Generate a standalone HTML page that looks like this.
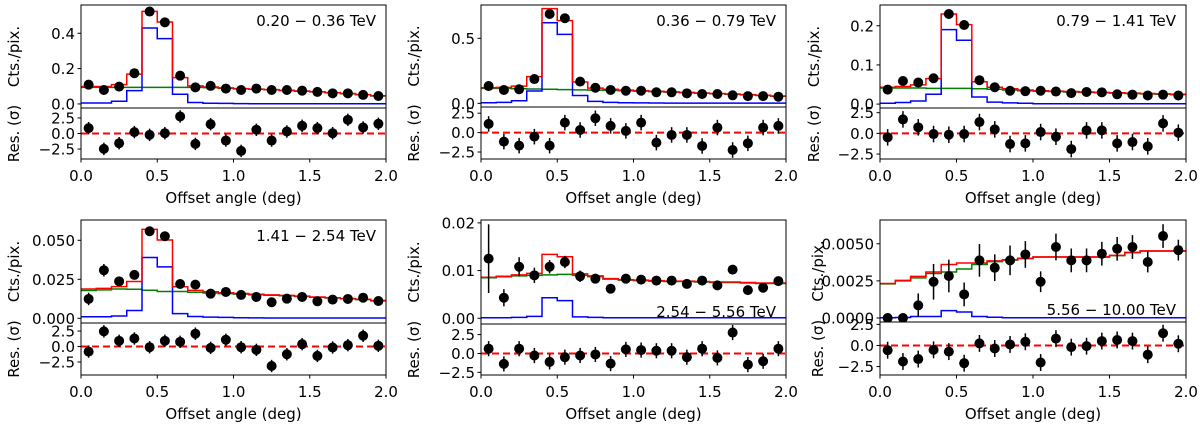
<!DOCTYPE html>
<html><head><meta charset="utf-8"><style>
html,body{margin:0;padding:0;background:#fff;}
svg{display:block;font-family:"DejaVu Sans","Liberation Sans",sans-serif;}
</style></head><body>
<svg id="fig" width="1200" height="426" viewBox="0 0 1200 426" xmlns="http://www.w3.org/2000/svg"></svg>
<script>
const xBins=[0.05,0.15,0.25,0.35,0.45,0.55,0.65,0.75,0.85,0.95,1.05,1.15,1.25,1.35,1.45,1.55,1.65,1.75,1.85,1.95];
const energyLabels=["0.20 − 0.36 TeV","0.36 − 0.79 TeV","0.79 − 1.41 TeV","1.41 − 2.54 TeV","2.54 − 5.56 TeV","5.56 − 10.00 TeV"];
const counts1=[0.109,0.079,0.098,0.174,0.523,0.462,0.160,0.094,0.102,0.087,0.079,0.087,0.079,0.079,0.075,0.068,0.060,0.060,0.051,0.045];
const counts2=[0.133,0.103,0.108,0.187,0.687,0.654,0.167,0.12,0.103,0.097,0.097,0.085,0.085,0.077,0.072,0.072,0.062,0.056,0.056,0.051];
const counts3=[0.037,0.059,0.055,0.066,0.23,0.202,0.061,0.043,0.034,0.033,0.034,0.032,0.028,0.031,0.030,0.025,0.024,0.022,0.024,0.022];
const counts4=[0.0124,0.0308,0.0237,0.0278,0.0558,0.0526,0.022,0.0216,0.0158,0.0169,0.015,0.0137,0.0103,0.0126,0.0137,0.0109,0.012,0.0124,0.0132,0.0111];
const counts5=[0.0125,0.0043,0.0108,0.009,0.0108,0.0118,0.0088,0.0083,0.0062,0.0083,0.0081,0.0079,0.0079,0.0072,0.0079,0.0069,0.0102,0.0059,0.0064,0.0078];
const counts6=[0,0,0.00085,0.00244,0.00283,0.00159,0.00388,0.00339,0.00388,0.00428,0.00244,0.00478,0.00388,0.00388,0.00433,0.00466,0.00478,0.00377,0.00552,0.00457];
const errs1=[0.004,0.004,0.004,0.005,0.006,0.006,0.005,0.004,0.004,0.004,0.004,0.004,0.004,0.004,0.004,0.004,0.004,0.004,0.004,0.004];
const errs2=[0.006,0.006,0.006,0.007,0.01,0.01,0.006,0.006,0.006,0.006,0.006,0.006,0.005,0.005,0.005,0.005,0.005,0.005,0.005,0.005];
const errs3=[0.003,0.003,0.003,0.003,0.005,0.005,0.003,0.003,0.003,0.003,0.003,0.003,0.003,0.003,0.003,0.003,0.003,0.003,0.003,0.003];
const errs4=[0.004,0.004,0.002,0.002,0.003,0.002,0.0015,0.0015,0.0012,0.0012,0.0012,0.001,0.001,0.001,0.001,0.001,0.001,0.001,0.001,0.001];
const errs5=[0.0072,0.0018,0.002,0.0016,0.0014,0.0013,0.0012,0.001,0.0008,0.0009,0.0009,0.0008,0.0008,0.0008,0.0008,0.0008,0.0007,0.0005,0.0005,0.0005];
const errs6=[0.0001,0.0001,0.0008,0.0012,0.0011,0.0008,0.0011,0.0009,0.001,0.0009,0.0007,0.0009,0.0008,0.0008,0.0008,0.0008,0.0008,0.0007,0.0008,0.0007];
const src1=[0.005,0.005,0.015,0.075,0.43,0.37,0.055,0.008,0.004,0.003,0.002,0.001,0.001,0.001,0.001,0.001,0.001,0.001,0.001,0.001];
const src2=[0.005,0.008,0.02,0.095,0.62,0.53,0.06,0.015,0.008,0.005,0.004,0.003,0.002,0.002,0.002,0.002,0.002,0.002,0.002,0.002];
const src3=[0.002,0.004,0.008,0.025,0.19,0.163,0.018,0.005,0.003,0.002,0.001,0.001,0.001,0.001,0.001,0.001,0.001,0.001,0.001,0.001];
const src4=[0.001,0.001,0.0015,0.005,0.039,0.033,0.003,0.0012,0.0008,0.0006,0.0004,0.0003,0.0002,0.0002,0.0002,0.0002,0.0002,0.0002,0.0002,0.0002];
const src5=[0.0001,0.0001,0.0002,0.0004,0.0043,0.0037,0.0003,0.0002,0.0001,0.0001,0.0001,0.0001,0.0001,0.0001,0.0001,0.0001,0.0001,0.0001,0.0001,0.0001];
const src6=[0.00002,0.00003,0.0001,0.0001,0.0005,0.0004,0.0001,0.00005,0.00002,0.00002,0.00002,0.00002,0.00002,0.00002,0.00002,0.00002,0.00002,0.00002,0.00002,0.00002];
const bkg1=[0.094,0.094,0.094,0.094,0.094,0.094,0.094,0.094,0.092,0.088,0.085,0.083,0.08,0.076,0.072,0.068,0.063,0.058,0.052,0.045];
const bkg2=[0.115,0.115,0.112,0.11,0.108,0.106,0.104,0.102,0.1,0.097,0.094,0.09,0.086,0.082,0.078,0.074,0.07,0.065,0.06,0.055];
const bkg3=[0.041,0.041,0.041,0.04,0.04,0.04,0.039,0.038,0.036,0.034,0.033,0.032,0.031,0.03,0.029,0.028,0.027,0.026,0.025,0.024];
const bkg4=[0.0178,0.0182,0.0188,0.0186,0.018,0.0172,0.0172,0.0167,0.0162,0.0158,0.0155,0.0151,0.0148,0.0145,0.014,0.0135,0.013,0.0125,0.012,0.0112];
const bkg5=[0.0085,0.0087,0.0089,0.009,0.0091,0.0092,0.009,0.0087,0.0082,0.008,0.0079,0.0078,0.0077,0.0077,0.0076,0.0075,0.0075,0.0074,0.0073,0.0073];
const bkg6=[0.0023,0.0025,0.0027,0.003,0.0031,0.0033,0.0036,0.0038,0.0039,0.004,0.0041,0.0041,0.0041,0.0041,0.0041,0.0042,0.0044,0.0045,0.0045,0.0045];
const res1=[0.86,-2.47,-1.56,0.22,-0.22,0.05,2.74,-1.67,1.5,-1.13,-2.8,0.6,-1.13,0.32,1.24,0.86,0.05,2.2,0.97,1.56];
const res2=[1.12,-1.16,-1.68,-0.52,-1.68,1.29,0.34,1.85,0.86,0.22,1.29,-1.29,-0.3,-0.3,-1.72,0.65,-2.24,-1.38,0.65,0.86];
const res3=[-0.48,1.69,0.73,-0.08,-0.16,-0.08,1.37,0.48,-1.29,-1.21,0.16,-0.4,-1.9,0.36,0.36,-1.21,-1.05,-1.57,1.21,0.08];
const res4=[-0.82,2.45,0.92,1.3,-0.11,0.92,0.76,2.07,-0.22,1.09,-0.11,-0.54,-3.15,-1.25,0.38,-1.52,-0.16,0.22,1.74,0.11];
const res5=[0.63,-1.38,0.63,-0.27,-1.12,-0.49,-0.27,-0.13,-1.34,0.54,0.45,0.36,0.36,-0.49,0.63,-0.58,2.77,-1.47,-1.03,0.63];
const res6=[-0.56,-1.9,-1.61,-0.52,-0.73,-2.1,0.24,-0.36,0.12,0.44,-2.02,0.81,-0.2,-0.08,0.52,0.65,0.52,-1.09,1.45,0.2];
const yTicks1=["0.0","0.2","0.4"],yTicks2=["0.0","0.5"],yTicks3=["0.0","0.1","0.2"];
const yTicks4=["0.000","0.025","0.050"],yTicks5=["0.00","0.01","0.02"],yTicks6=["0.0000","0.0025","0.0050"];
const resTicks=["−2.5","0.0","2.5"];
const xTicks=["0.0","0.5","1.0","1.5","2.0"];

const NS="http://www.w3.org/2000/svg";
const svg=document.getElementById('fig');
const FS=15;
function mk(tag,attrs,parent){const e=document.createElementNS(NS,tag);for(const k in attrs)e.setAttribute(k,attrs[k]);(parent||svg).appendChild(e);return e;}

const panels=[
 {x0:81,x1:386,t:5,d:108,b:159,ymin:-0.023,ymax:0.56,rmin:-4.1,rmax:4.1,yt:yTicks1,c:counts1,e:errs1,s:src1,g:bkg1,r:res1,lab:0,labTop:true,ylx:14},
 {x0:481,x1:786,t:5,d:107,b:159,ymin:-0.028,ymax:0.756,rmin:-3.4,rmax:3.3,yt:yTicks2,c:counts2,e:errs2,s:src2,g:bkg2,r:res2,lab:1,labTop:true,ylx:414},
 {x0:880,x1:1186,t:5,d:108,b:159,ymin:-0.01,ymax:0.253,rmin:-3.1,rmax:3.07,yt:yTicks3,c:counts3,e:errs3,s:src3,g:bkg3,r:res3,lab:2,labTop:true,ylx:814},
 {x0:81,x1:386,t:220,d:323,b:375,ymin:-0.003,ymax:0.063,rmin:-4.6,rmax:3.8,yt:yTicks4,c:counts4,e:errs4,s:src4,g:bkg4,r:res4,lab:3,labTop:true,ylx:14},
 {x0:481,x1:786,t:220,d:324,b:375,ymin:-0.0012,ymax:0.0206,rmin:-2.85,rmax:3.9,yt:yTicks5,c:counts5,e:errs5,s:src5,g:bkg5,r:res5,lab:4,labTop:false,ylx:414},
 {x0:880,x1:1186,t:220,d:322,b:375,ymin:-0.00027,ymax:0.0066,rmin:-3.5,rmax:2.78,yt:yTicks6,c:counts6,e:errs6,s:src6,g:bkg6,r:res6,lab:5,labTop:false,ylx:818}
];

panels.forEach((p,pi)=>{
 const G=mk('g',{});
 
 
 const X=v=>p.x0+(v/2)*(p.x1-p.x0);
 const Y=v=>p.d-(v-p.ymin)/(p.ymax-p.ymin)*(p.d-p.t);
 const R=v=>p.b-(v-p.rmin)/(p.rmax-p.rmin)*(p.b-p.d);
 const cp='clip'+pi;
 const defs=mk('defs',{},G);
 const c1=mk('clipPath',{id:cp},defs);mk('rect',{x:p.x0,y:p.t,width:p.x1-p.x0,height:p.d-p.t},c1);
 const c2=mk('clipPath',{id:cp+'r'},defs);mk('rect',{x:p.x0,y:p.d,width:p.x1-p.x0,height:p.b-p.d},c2);
 const gt=mk('g',{'clip-path':'url(#'+cp+')'},G);
 const stepIn=(arr,color,name)=>{
  let d='';
  arr.forEach((v,i)=>{const xa=X(i*0.1),xb=X((i+1)*0.1),y=Y(v);d+=(i?'L':'M')+xa+','+y+'L'+xb+','+y;});
  const el=mk('path',{d:d,fill:'none',stroke:color,'stroke-width':1.5},gt);
  
  
 };
 stepIn(p.g,'#008000','background-model');
 stepIn(p.s,'#0000ff','source-model');
 stepIn(p.g.map((v,i)=>v+p.s[i]),'#ff0000','total-model');
 p.c.forEach((v,i)=>{
  const ln=mk('line',{x1:X(xBins[i]),x2:X(xBins[i]),y1:Y(v-p.e[i]),y2:Y(v+p.e[i]),stroke:'#000','stroke-width':1.5},gt);
  
  
  const pt=mk('circle',{cx:X(xBins[i]),cy:Y(v),r:5,fill:'#000'},gt);
  
  
 });
 const gr=mk('g',{'clip-path':'url(#'+cp+'r)'},G);
 const zl=mk('line',{x1:p.x0,x2:p.x1,y1:R(0),y2:R(0),stroke:'#ff0000','stroke-width':2,'stroke-dasharray':'7,4'},gr);
 
 
 p.r.forEach((v,i)=>{
  const ln=mk('line',{x1:X(xBins[i]),x2:X(xBins[i]),y1:R(v-1),y2:R(v+1),stroke:'#000','stroke-width':1.5},gr);
  
  
  const pt=mk('circle',{cx:X(xBins[i]),cy:R(v),r:5,fill:'#000'},gr);
  
  
 });
 const f1=mk('rect',{x:p.x0,y:p.t,width:p.x1-p.x0,height:p.d-p.t,fill:'none',stroke:'#000','stroke-width':1},G);
 
 
 const f2=mk('rect',{x:p.x0,y:p.d,width:p.x1-p.x0,height:p.b-p.d,fill:'none',stroke:'#000','stroke-width':1},G);
 
 
 p.yt.forEach(t=>{
  const v=parseFloat(t),y=Y(v);
  mk('line',{x1:p.x0-3.5,x2:p.x0,y1:y,y2:y,stroke:'#000','stroke-width':1},G);
  const tx=mk('text',{x:p.x0-6,y:y+5.5,'font-size':FS,'text-anchor':'end',fill:'#000'},G);
  tx.textContent=t;
  
  
 });
 resTicks.forEach(t=>{
  const v=parseFloat(t.replace('−','-')),y=R(v);
  mk('line',{x1:p.x0-3.5,x2:p.x0,y1:y,y2:y,stroke:'#000','stroke-width':1},G);
  const tx=mk('text',{x:p.x0-6,y:y+5.5,'font-size':FS,'text-anchor':'end',fill:'#000'},G);
  tx.textContent=t;
  
  
 });
 xTicks.forEach(t=>{
  const x=X(parseFloat(t));
  mk('line',{x1:x,x2:x,y1:p.b,y2:p.b+3.5,stroke:'#000','stroke-width':1},G);
  const tx=mk('text',{x:x,y:p.b+22,'font-size':FS,'text-anchor':'middle',fill:'#000'},G);
  tx.textContent=t;
  
  
 });
 const xl=mk('text',{x:(p.x0+p.x1)/2,y:p.b+44,'font-size':FS,'text-anchor':'middle',fill:'#000'},G);
 xl.textContent='Offset angle (deg)';
 
 
 const yc=(p.t+p.d)/2;
 const yl=mk('text',{x:p.ylx,y:yc,'font-size':FS,'text-anchor':'middle',fill:'#000',transform:'rotate(-90 '+p.ylx+' '+yc+')',dy:'5'},G);
 yl.textContent='Cts./pix.';
 
 
 const rc=(p.d+p.b)/2;
 const rl=mk('text',{x:p.ylx,y:rc,'font-size':FS,'text-anchor':'middle',fill:'#000',transform:'rotate(-90 '+p.ylx+' '+rc+')',dy:'5'},G);
 rl.textContent='Res. (σ)';
 
 
 const el=mk('text',{x:p.x1-10,y:p.labTop?p.t+21:p.d-7,'font-size':FS,'text-anchor':'end',fill:'#000'},G);
 el.textContent=energyLabels[p.lab];
 
 
});
</script>
</body></html>
